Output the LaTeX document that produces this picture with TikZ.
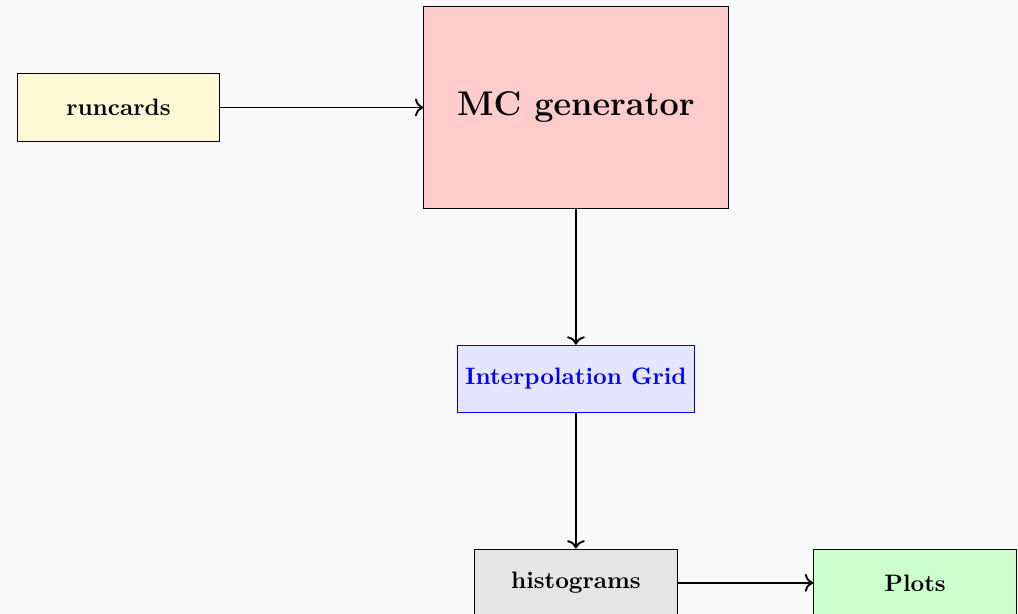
\documentclass[tikz,border=0pt]{standalone}
\usetikzlibrary{positioning,arrows.meta}
\definecolor{bgcol}{RGB}{249,249,249}
\definecolor{cardcol}{RGB}{255,250,214}
\begin{document}
\begin{tikzpicture}[>={To[length=3.5pt,width=7.5pt]},
  box/.style={draw, minimum width=3cm, minimum height=1cm, font=\bfseries}]

  % 背景与边界
  \fill[bgcol] (-1.751,1.589) rectangle (13.30,-7.486);
  \useasboundingbox (-1.751,1.589) rectangle (13.30,-7.486);

  % 输入卡片
  \node[box, fill=cardcol] (runcards) at (0,0) {runcards};

  % 事例产生器
  \node[box, fill=red!20, minimum width=4.5cm, minimum height=3cm,
        font=\Large\bfseries, right=3cm of runcards] (mcgen) {MC generator};

  % 插值网格
  \node[box, draw=blue, fill=blue!10, text=blue, below=2cm of mcgen] (grid) {Interpolation Grid};

  % 直方图与作图
  \node[box, fill=gray!20, below=2cm of grid] (hist) {histograms};
  \node[box, fill=green!20, right=2cm of hist] (plots) {Plots};

  % 流程箭头
  \draw[->, thick] (runcards) -- (mcgen);
  \draw[->, thick] (mcgen) -- (grid);
  \draw[->, thick] (grid) -- (hist);
  \draw[->, thick] (hist) -- (plots);

\end{tikzpicture}
\end{document}
